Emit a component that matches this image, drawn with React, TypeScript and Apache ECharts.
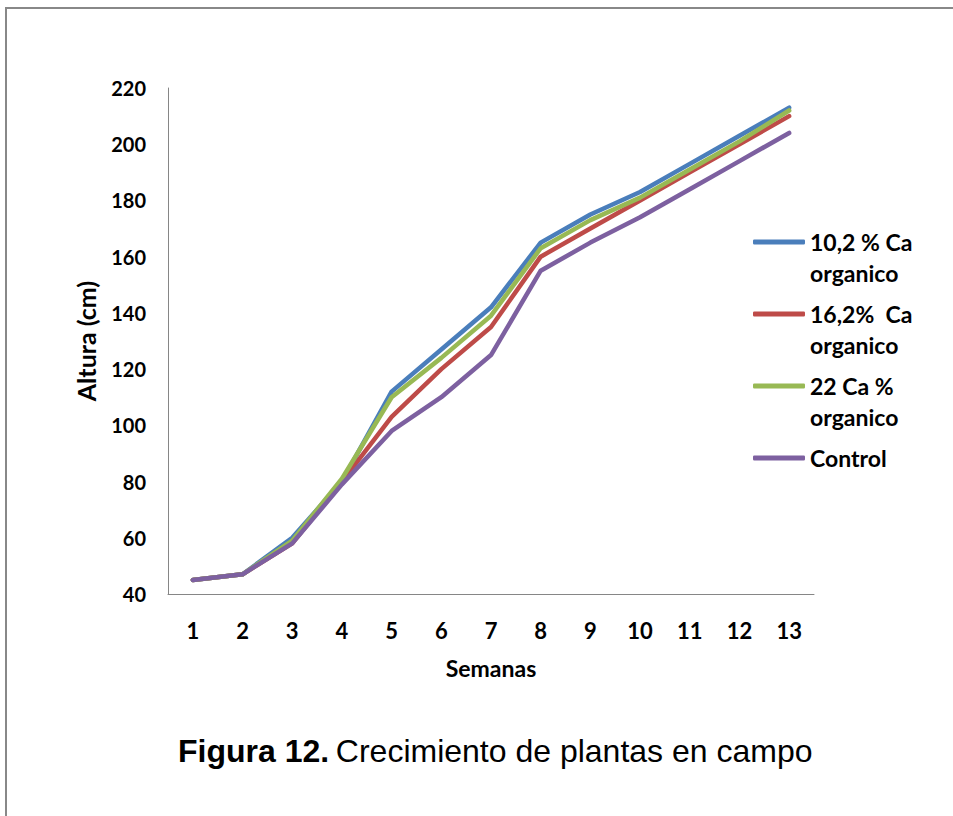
import React, { useEffect, useRef } from "react";
import * as echarts from "echarts";

const weeks = ["1", "2", "3", "4", "5", "6", "7", "8", "9", "10", "11", "12", "13"];
const seriesNames = ["10,2 % Ca\norganico", "16,2%  Ca\norganico", "22 Ca %\norganico", "Control"];
const ca102 = [45, 47, 60, 80, 112, 127, 142, 165, 175, 183, 193, 203, 213];
const ca162 = [45, 47, 58, 80, 103, 120, 135, 160, 170, 180, 190, 200, 210];
const ca22 = [45, 47, 59, 81, 110, 124, 139, 163, 173, 181, 191, 201, 212];
const control = [45, 47, 58, 79, 98, 110, 125, 155, 165, 174, 184, 194, 204];
const seriesColors = ["#4A7EBB", "#BE4B48", "#98B954", "#7D60A0"];
const yTicks = { min: 40, max: 220, interval: 20 };

export default function App() {
  const ref = useRef<HTMLDivElement>(null);
  useEffect(() => {
    if (!ref.current) return;
    const chart = echarts.init(ref.current, null, { renderer: "svg" });
    const values = [ca102, ca162, ca22, control];
    const font = "Lato, 'Open Sans', sans-serif";
    const lh = 31;
    chart.setOption({
      animation: false,
      backgroundColor: "#ffffff",
      grid: { left: 168, right: 139, top: 88, bottom: 222, containLabel: false },
      xAxis: {
        type: "category",
        data: weeks,
        boundaryGap: true,
        name: "Semanas",
        nameLocation: "middle",
        nameGap: 62,
        nameTextStyle: { fontFamily: font, fontWeight: "bold", fontSize: 23, color: "#000" },
        axisLine: { lineStyle: { color: "#868686", width: 1 } },
        axisTick: { show: false },
        axisLabel: { fontFamily: font, fontWeight: "bold", fontSize: 22, color: "#000", margin: 25 },
        splitLine: { show: false },
      },
      yAxis: {
        type: "value",
        min: yTicks.min,
        max: yTicks.max,
        interval: yTicks.interval,
        name: "Altura (cm)",
        nameLocation: "middle",
        nameGap: 70,
        nameRotate: 90,
        nameTextStyle: { fontFamily: font, fontWeight: "bold", fontSize: 25, color: "#000" },
        axisLine: { show: true, lineStyle: { color: "#868686", width: 1 } },
        axisTick: { show: false },
        axisLabel: { fontFamily: font, fontWeight: "bold", fontSize: 20, color: "#000", margin: 22 },
        splitLine: { show: false },
      },
      legend: {
        orient: "vertical",
        left: 748,
        top: 237 - 1.5 * lh,
        itemGap: 72 - 3 * lh,
        itemWidth: 52,
        itemHeight: 5,
        icon: "roundRect",
        data: seriesNames,
        formatter: (name: string) => (name.includes("\n") ? " \n" + name : " \n" + name + "\n "),
        textStyle: { fontFamily: font, fontWeight: "bold", fontSize: 23, color: "#000", lineHeight: lh },
      },
      graphic: [
        {
          type: "text",
          left: 178,
          top: 735,
          style: {
            text: "{b|Figura 12.}  {r|Crecimiento de plantas en campo}",
            rich: {
              b: { fontFamily: "'Liberation Sans', Arial, sans-serif", fontWeight: "bold", fontSize: 32, fill: "#000" },
              r: { fontFamily: "'Liberation Sans', Arial, sans-serif", fontSize: 32, fill: "#000" },
            },
          },
        },
        {
          type: "polyline",
          shape: { points: [[6, 830], [6, 8], [960, 8]] },
          style: { stroke: "#888888", lineWidth: 2, fill: null },
        },
      ],
      series: seriesNames.map((n, i) => ({
        name: n,
        type: "line",
        data: values[i],
        symbol: "none",
        showSymbol: false,
        lineStyle: { color: seriesColors[i], width: 4.5, cap: "round", join: "round" },
        itemStyle: { color: seriesColors[i] },
        z: 2 + i,
      })),
    });
    return () => chart.dispose();
  }, []);
  return (
    <div
      ref={ref}
      style={{ position: "absolute", left: 0, top: 0, width: 953, height: 816 }}
    />
  );
}
